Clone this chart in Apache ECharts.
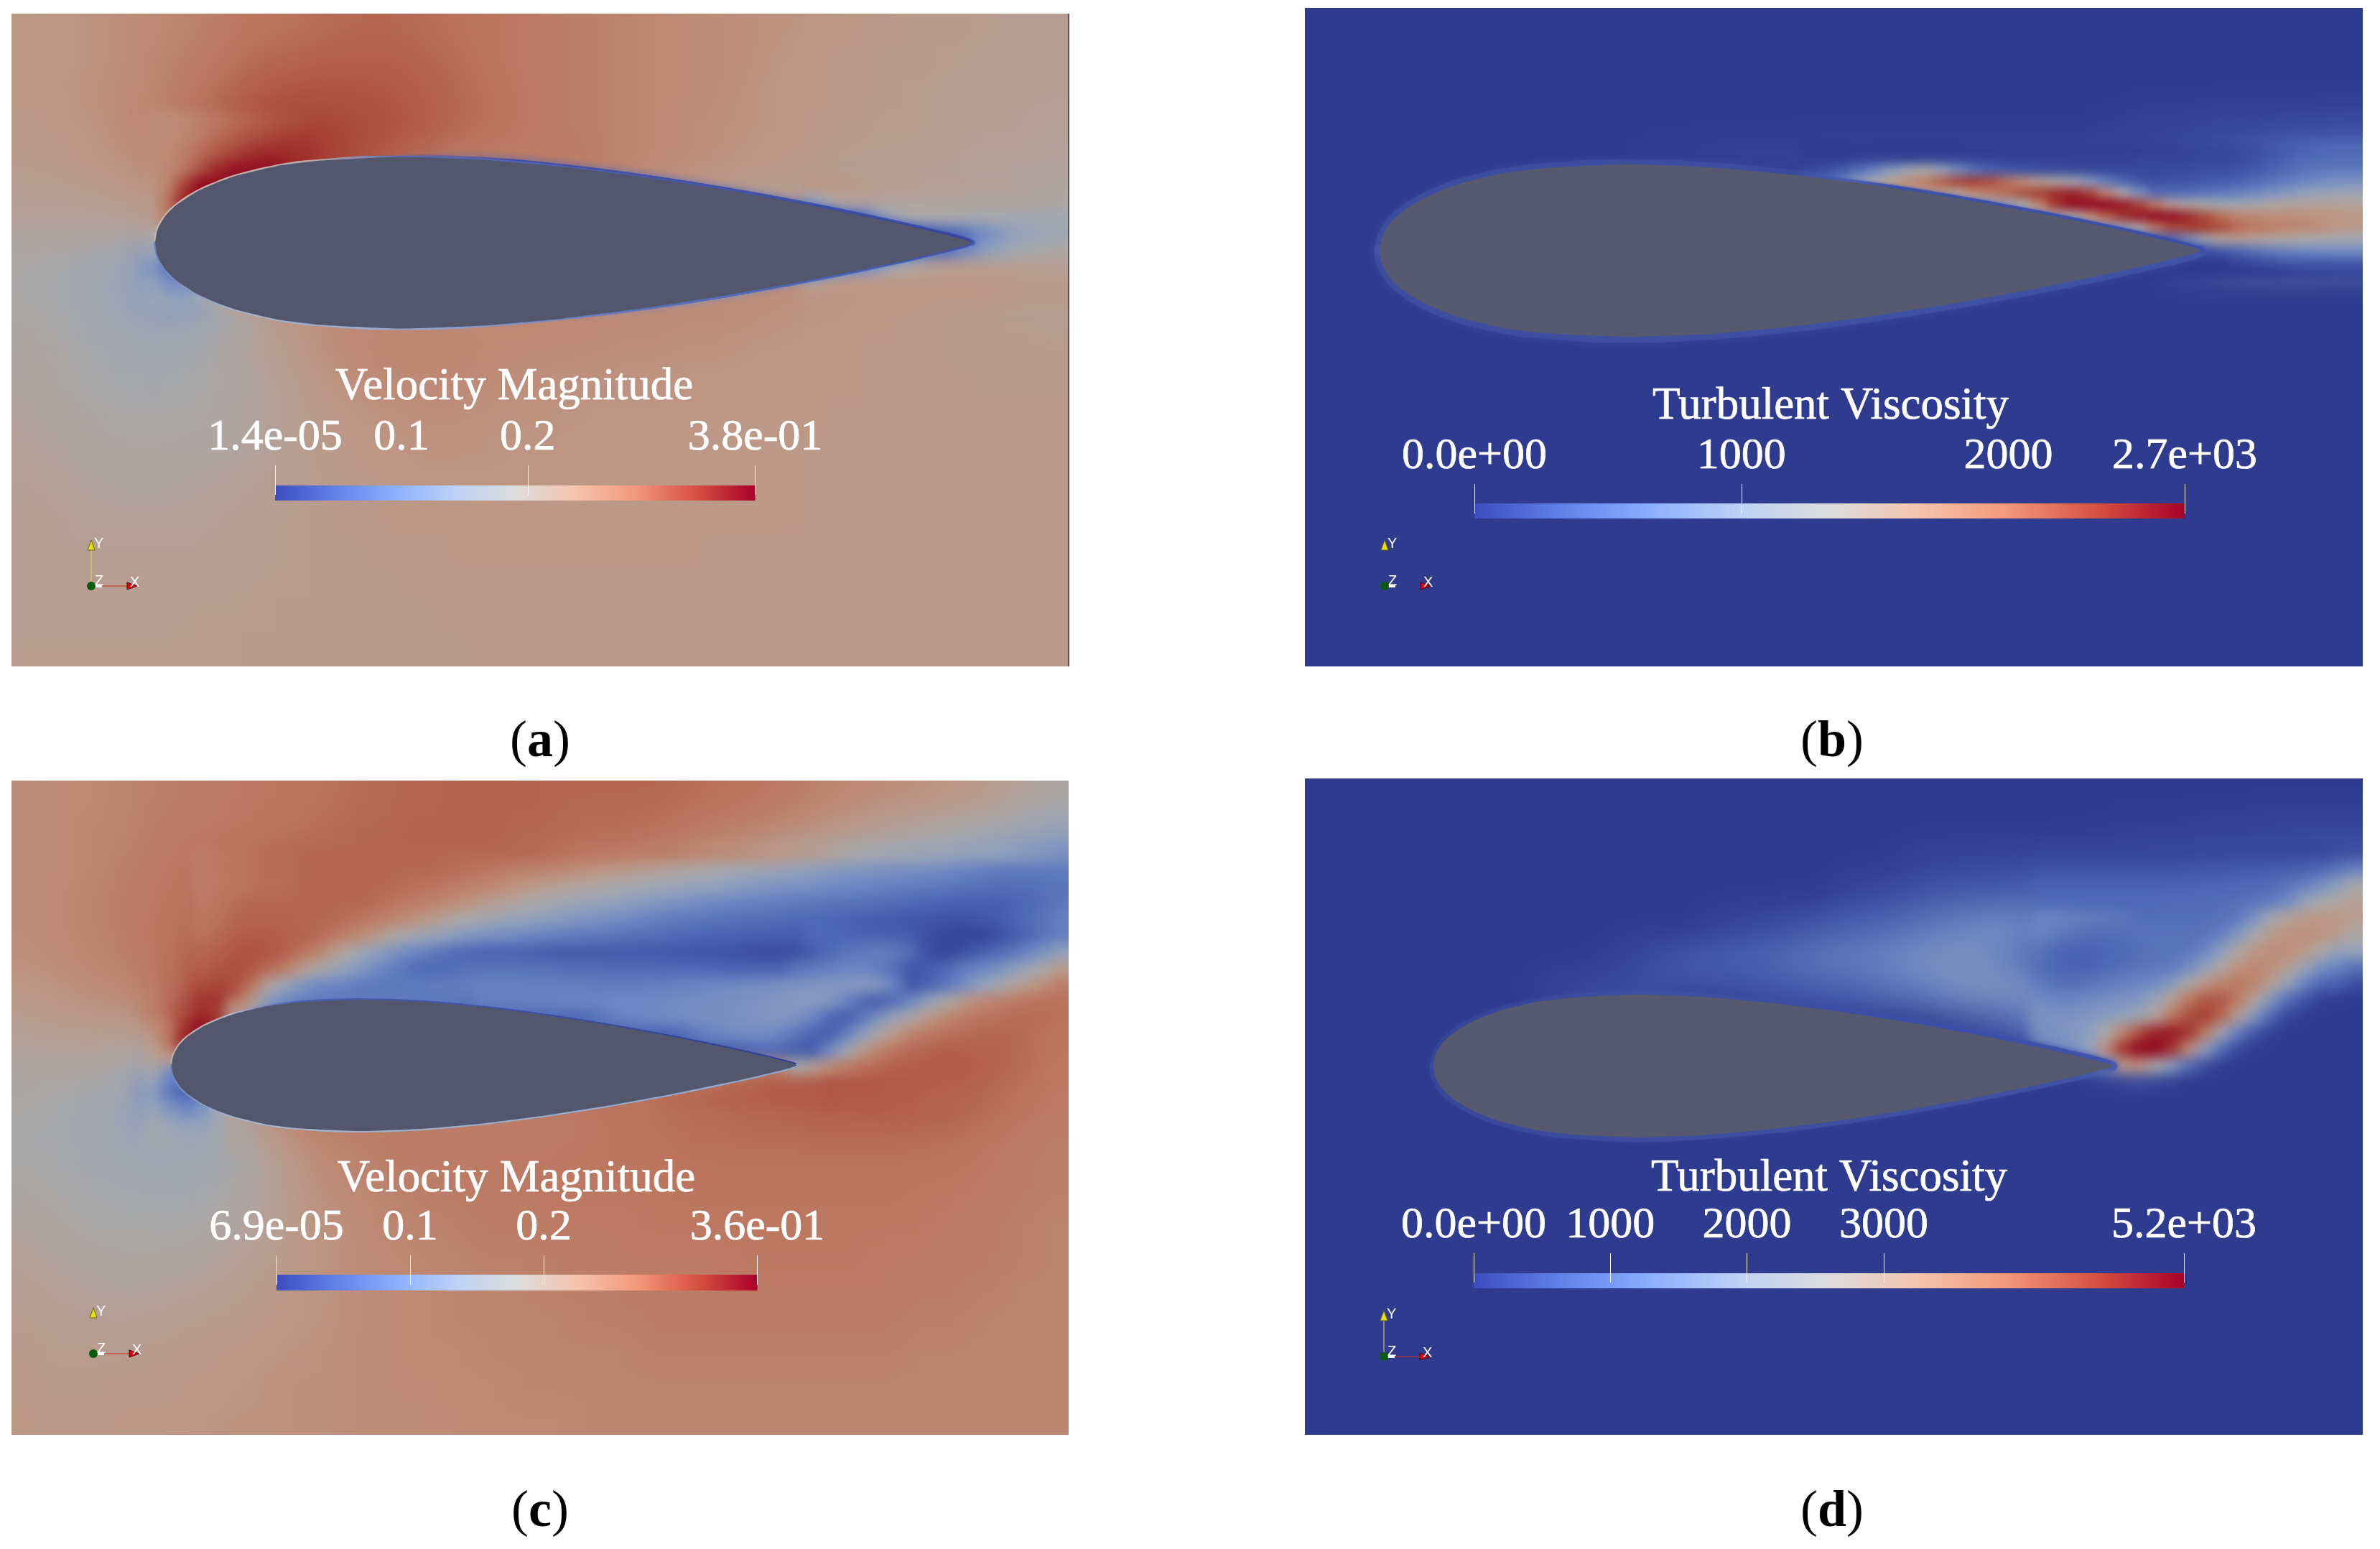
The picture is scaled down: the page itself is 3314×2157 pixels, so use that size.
<!DOCTYPE html>
<html>
<head>
<meta charset="utf-8">
<title>Airfoil flow fields</title>
<script src="https://cdn.jsdelivr.net/npm/echarts@6/dist/echarts.min.js"></script>
<style>
  html, body { margin: 0; padding: 0; background: #fff; overflow: hidden; }
  #page { position: relative; width: 3314px; height: 2157px; }
  .panel { position: absolute; overflow: hidden; }
  .field { position: absolute; }
  #overlay { position: absolute; left: 0; top: 0; width: 3314px; height: 2157px; }
</style>
</head>
<body>
<div id="page"><div id="overlay"></div></div>
<script>
// all field values are percent of the colour bar
const fieldColors = ["#2e3b8e", "#4b64b4", "#6d88c4", "#92a2bd", "#aaaaaa", "#bd9785", "#bc755e", "#a53f32", "#90051f"];
const barColors = ["#3b4cc0", "#6282ea", "#8dafff", "#bed2f6", "#dddddd", "#f5c4ad", "#f4987a", "#d65241", "#aa0028"];

const velocityA = [
  [62,63,64,66,68,70,73,75,76,77,78,78,77,76,75,73,72,71,70,68,67,66,65,64,63,62,61,60,60,59,58,58],
  [62,63,64,66,69,72,75,78,79,80,80,80,79,77,75,73,72,71,70,68,67,66,65,63,62,61,60,60,59,58,58,57],
  [62,63,65,67,70,74,78,81,83,83,83,82,80,78,76,74,72,71,70,68,67,66,64,63,62,61,60,59,58,58,57,57],
  [61,62,64,67,70,76,81,85,87,86,85,83,81,78,76,74,72,71,70,68,66,65,64,63,61,60,59,59,58,57,57,56],
  [60,61,63,65,68,74,83,92,94,88,84,80,76,72,72,72,73,72,70,68,66,65,63,62,60,59,58,58,57,56,56,55],
  [58,58,59,61,65,78,96,98,92,86,80,76,72,70,70,70,70,68,66,64,62,60,58,58,57,56,56,55,55,54,54,54],
  [55,55,55,55,58,68,80,80,78,75,72,70,70,70,70,70,68,66,64,62,60,60,60,58,56,52,48,46,44,34,40,46],
  [51,50,47,43,30,35,60,64,64,64,64,64,64,64,64,64,64,64,64,64,64,64,64,64,64,64,60,58,55,42,46,50],
  [50,48,45,40,32,30,42,62,66,66,66,66,66,66,66,66,66,66,66,66,66,66,66,66,64,63,62,62,60,58,57,57],
  [52,50,47,44,42,44,50,56,62,66,68,68,68,68,68,68,68,68,67,67,66,66,65,64,63,62,62,61,60,60,59,58],
  [53,51,49,47,46,48,52,56,60,65,68,69,69,69,68,67,66,66,65,65,64,64,63,63,62,62,61,61,60,60,60,60],
  [54,52,50,49,49,50,52,55,58,62,65,67,67,67,66,65,65,64,64,64,63,63,63,62,62,62,61,61,61,60,60,60],
  [55,53,52,51,51,51,53,55,58,61,63,64,65,65,64,64,64,63,63,63,63,62,62,62,62,61,61,61,61,61,61,61],
  [56,55,53,52,52,53,54,56,58,60,62,63,64,64,64,63,63,63,62,62,62,62,62,62,61,61,61,61,61,61,61,61],
  [57,56,55,54,54,55,56,57,58,60,61,62,63,63,63,63,62,62,62,62,62,62,62,62,61,61,61,61,61,61,61,61],
  [58,57,56,56,56,56,57,58,59,60,61,62,62,62,62,62,62,62,62,62,62,62,62,62,61,61,61,61,61,61,61,61],
  [58,57,57,57,57,57,58,58,59,60,60,61,61,62,62,62,62,62,62,62,62,61,61,61,61,61,61,61,61,61,61,61],
  [58,58,58,58,58,58,58,59,59,60,60,60,61,61,61,61,61,61,61,61,61,61,61,61,61,61,61,61,61,61,61,61],
  [58,58,58,58,58,59,59,59,60,60,60,60,60,61,61,61,61,61,61,61,61,61,61,61,61,61,61,61,61,61,61,61],
  [59,59,59,59,59,59,59,60,60,60,60,60,60,60,61,61,61,61,61,61,61,61,61,61,61,61,61,61,61,61,61,61]
];
const wakeA = [
  [64,62,61,60,59,58,58,57,57,57,56,56,56,55,55,54],
  [40,52,56,56,55,55,55,54,54,54,54,54,54,54,53,52],
  [30,30,30,20,36,46,50,50,50,49,48,48,47,46,46,46],
  [20,20,20,20,20,20,16,14,14,16,24,30,36,40,42,44],
  [20,20,20,20,20,20,20,16,14,24,32,38,44,48,50,52],
  [30,30,30,30,35,48,52,56,58,58,58,58,58,58,58,57],
  [54,60,62,62,62,62,62,62,62,62,62,62,61,60,60,60],
  [64,64,64,63,63,63,63,62,62,62,62,61,61,60,60,60]
];
const noseA = [
  [66,66,68,71,74,77,79,81,83,84],
  [66,67,69,73,77,80,83,85,87,88],
  [66,68,72,77,82,86,90,92,92,90],
  [65,68,74,84,92,97,98,98,96,92],
  [64,70,88,100,100,100,96,92,90,88],
  [60,76,96,100,100,96,90,88,88,88],
  [60,72,88,90,90,88,84,84,84,84],
  [52,48,56,60,60,60,60,60,60,60],
  [42,32,36,50,50,60,60,60,60,60],
  [32,18,20,40,50,60,60,60,60,60],
  [38,30,28,40,54,62,62,62,62,62],
  [44,40,38,44,52,60,62,62,62,62]
];

const zeroRow = [0,0,0,0,0,0,0,0,0,0,0,0,0,0,0,0,0,0,0,0,0,0,0,0,0,0,0,0,0,0,0,0];
const viscosityB = [
  zeroRow, zeroRow, zeroRow,
  [0,0,0,0,0,0,0,0,0,0,0,0,0,0,0,0,0,0,0,0,0,0,0,0,1,2,2,3,3,4,4,5],
  [0,0,0,0,0,0,0,0,0,0,1,1,2,2,2,3,3,3,3,3,3,3,3,3,4,4,6,8,10,12,14,14],
  [0,0,0,0,0,0,0,0,0,0,0,0,0,0,0,0,50,70,78,80,78,60,44,34,30,30,38,50,58,60,60,60],
  [0,0,0,0,0,0,0,0,0,0,0,0,0,0,0,0,0,0,0,0,60,80,90,84,72,68,70,68,66,64,62,60],
  [0,0,0,0,0,0,0,0,0,0,0,0,0,0,0,0,0,0,0,0,0,0,0,0,0,0,10,20,28,30,30,26],
  zeroRow, zeroRow, zeroRow, zeroRow, zeroRow, zeroRow, zeroRow, zeroRow, zeroRow, zeroRow, zeroRow, zeroRow
];
const plumeB = [
  [0,0,0,0,0,0,0,0,0,0,1,1,1,1,1,1,1,1,1,1,1,2,2,3,3,4,5,6,8,10,12,13,14,14],
  [1,1,1,2,2,2,2,3,3,3,2,2,2,2,2,2,2,2,2,2,3,3,3,3,4,4,5,6,9,12,14,15,16,16],
  [4,6,10,16,24,34,44,50,40,28,18,12,9,7,6,5,4,4,4,4,4,4,5,5,6,6,7,9,12,15,18,19,20,20],
  [10,14,24,36,48,58,66,72,80,86,88,84,76,66,58,52,46,34,22,14,8,6,7,8,9,10,12,15,18,21,24,27,29,30],
  [50,50,50,50,60,60,60,60,60,56,66,72,78,84,88,92,94,86,70,50,30,16,15,16,18,20,22,26,30,34,38,41,43,44],
  [40,40,40,40,40,40,40,40,40,40,40,40,40,50,70,90,98,100,100,96,86,72,58,52,48,46,46,48,52,54,56,56,56,56],
  [50,50,50,50,50,50,50,50,50,50,50,50,50,50,50,50,50,66,80,90,96,100,98,92,84,76,70,68,66,66,65,64,63,62],
  [40,40,40,40,40,40,40,40,40,40,40,40,40,40,40,40,40,40,40,40,52,74,84,88,88,84,78,74,72,70,68,66,62,60],
  [14,14,14,14,14,14,14,14,14,14,14,14,14,14,14,14,14,14,14,14,14,14,14,28,44,56,58,56,54,52,50,48,47,46],
  [4,4,4,4,4,4,4,4,4,4,4,4,4,4,4,4,4,4,4,4,4,4,4,4,6,10,14,18,22,24,26,27,28,28],
  [0,0,0,0,0,0,0,0,0,0,0,0,0,0,0,0,0,0,0,0,0,0,0,0,0,0,3,5,7,9,10,10,10,10],
  [0,0,0,0,0,0,0,0,0,0,0,0,0,0,0,0,0,0,0,0,0,0,0,0,0,0,0,0,0,1,2,2,3,3]
];

const velocityC = [
  [66,67,68,70,71,72,73,74,75,76,77,78,78,79,79,79,78,78,78,78,77,76,75,73,70,68,66,65,63,60,56,52],
  [66,67,69,70,72,73,74,75,76,77,78,78,79,79,79,78,78,77,77,76,74,72,70,67,64,60,56,53,50,47,44,40],
  [66,67,69,71,73,75,76,77,78,78,78,79,79,78,78,77,76,74,72,69,66,62,57,52,48,44,42,40,38,35,32,28],
  [66,68,70,72,74,76,77,78,79,79,79,78,77,74,68,60,54,48,42,38,34,32,30,26,24,22,20,18,16,15,16,18],
  [66,68,70,72,75,77,79,80,80,78,72,58,50,38,32,28,24,20,18,16,14,13,12,11,10,9,8,7,6,6,14,20],
  [65,67,69,71,75,79,83,82,76,62,42,30,22,16,14,13,12,12,11,11,10,9,8,8,8,7,6,5,4,6,20,40],
  [62,64,66,68,74,82,90,80,58,34,24,22,22,22,21,21,22,22,22,23,24,25,26,28,30,30,14,8,30,50,66,72],
  [58,59,60,60,66,92,98,60,25,20,20,20,20,20,20,20,20,20,20,20,24,26,28,30,28,20,10,30,60,72,76,76],
  [54,54,54,52,47,60,60,50,40,40,40,40,40,40,40,40,40,40,40,40,40,40,40,55,72,78,80,80,80,78,77,75],
  [52,50,48,44,22,22,40,64,72,74,74,74,74,74,74,74,74,74,74,76,76,77,78,79,80,81,82,81,80,78,76,74],
  [50,48,46,42,36,38,44,60,68,72,72,72,72,72,72,72,72,74,75,76,77,77,78,78,79,79,79,78,78,76,74,72],
  [50,49,47,45,44,45,48,54,62,68,70,72,72,73,73,73,74,74,75,75,76,76,76,76,76,76,76,76,75,74,72,71],
  [52,50,49,48,47,47,50,54,60,66,68,70,72,72,73,73,74,74,74,74,75,75,75,75,75,75,75,74,74,73,72,71],
  [54,52,50,50,50,50,53,56,60,64,67,69,70,71,72,72,73,73,73,74,74,74,74,74,74,74,74,74,73,72,71,70],
  [56,54,53,52,52,53,55,58,61,64,66,68,69,70,71,71,72,72,73,73,73,73,74,74,74,74,73,73,72,72,71,70],
  [58,56,55,54,55,56,58,60,62,64,66,67,68,69,70,70,71,71,72,72,72,73,73,73,73,73,73,72,72,71,70,70],
  [59,58,57,57,58,59,60,61,63,64,66,67,68,69,69,70,70,71,71,72,72,72,72,72,72,72,72,71,71,70,70,70],
  [60,59,59,59,60,61,62,63,64,65,66,67,68,68,69,69,70,70,70,71,71,71,71,71,71,71,71,70,70,70,70,70],
  [61,60,60,61,61,62,63,64,65,65,66,67,67,68,68,69,69,69,70,70,70,70,70,70,70,70,70,70,70,70,70,70],
  [62,61,61,62,62,63,64,64,65,65,66,66,67,67,68,68,68,69,69,69,69,69,69,69,69,69,69,69,69,69,69,69]
];
const wakeC = [
  [72,74,75,76,77,77,78,78,78,78,78,78,78,78,78,78,78,78,78,78,78,77,76,75,74,74,73,72,72,71,69,68,67,66,64,63,61,59,56,52,50,47,46,44,43,42,40,39,38,36,34,32,30],
  [72,74,75,76,77,77,78,78,78,78,78,78,78,78,78,77,76,75,73,71,70,69,67,65,63,61,59,57,55,53,51,49,47,45,43,41,38,36,34,32,31,30,29,28,27,26,24,22,21,20,20,20,20],
  [72,74,75,76,77,77,78,78,78,78,78,78,77,76,75,73,71,69,67,64,61,58,56,54,52,50,47,45,43,41,39,37,35,33,31,30,29,28,26,25,24,23,22,21,20,19,18,17,16,16,16,17,18],
  [73,75,77,78,78,78,78,78,78,78,78,76,74,72,70,67,64,60,57,54,50,47,44,41,39,37,35,33,31,29,27,25,24,23,22,21,20,19,18,18,17,16,15,14,13,12,11,11,11,12,14,16,19],
  [74,76,78,79,79,79,78,78,78,76,74,71,68,64,60,54,50,46,42,39,37,35,33,31,29,27,25,23,21,20,19,18,17,16,16,15,14,14,13,12,11,10,9,8,8,7,7,8,9,12,15,18,22],
  [76,78,80,81,81,80,79,78,74,70,65,58,50,45,40,36,32,30,28,26,24,22,21,20,19,18,17,16,15,14,13,12,12,11,11,10,10,14,13,13,12,12,11,10,6,4,3,3,5,9,13,18,22],
  [78,80,82,83,82,80,76,70,60,50,40,34,28,24,20,16,14,12,12,12,11,10,9,9,9,9,9,9,9,8,8,8,7,6,5,5,6,10,14,18,20,22,20,15,6,3,6,10,14,18,24,30,38],
  [80,82,84,82,78,72,60,52,44,36,30,24,20,15,14,15,17,18,18,18,17,17,16,16,16,15,15,15,14,14,14,13,12,12,12,12,18,20,22,24,24,21,16,8,10,14,20,24,28,34,42,50,60],
  [84,86,84,76,54,42,32,26,24,22,20,19,19,20,21,21,22,23,23,23,22,22,22,22,21,21,21,22,22,23,24,25,26,27,28,29,30,31,32,33,34,32,22,8,12,18,26,36,44,52,60,66,72],
  [88,90,80,60,34,26,22,20,20,20,20,20,20,20,20,20,18,22,22,22,23,23,24,24,24,25,25,25,26,27,27,28,29,30,31,32,33,34,32,24,14,10,16,26,38,50,60,66,70,73,75,76,76],
  [96,92,70,40,20,18,16,14,14,14,14,14,14,14,14,14,14,14,14,14,14,14,14,14,18,22,24,25,26,27,28,28,29,30,31,32,30,24,14,10,18,30,42,52,62,68,72,75,76,77,77,77,76],
  [90,60,40,20,14,12,12,12,12,12,12,12,12,12,12,12,12,12,12,12,12,12,12,12,12,12,12,12,12,14,20,24,26,27,27,24,18,12,10,22,36,52,62,70,74,76,77,78,78,78,77,76,75],
  [60,40,30,14,12,10,10,10,10,10,10,10,10,10,10,10,10,10,10,10,10,10,10,10,10,10,10,10,10,10,10,10,10,12,14,14,10,10,26,44,60,70,75,78,79,80,80,79,79,78,77,76,75],
  [60,64,70,70,70,70,70,70,70,70,70,70,70,70,70,70,70,70,70,70,70,70,70,70,70,70,70,70,70,70,70,70,70,70,70,70,50,56,66,72,76,78,80,80,81,81,81,80,79,78,77,75,74],
  [46,60,70,76,76,76,76,76,76,76,76,76,76,76,76,76,76,76,76,76,76,76,76,76,76,76,76,76,76,76,76,76,78,78,80,80,80,81,82,82,82,82,81,81,81,80,80,79,78,77,76,75,74],
  [60,64,68,72,76,76,76,76,76,76,76,76,76,76,76,76,76,76,76,76,76,76,76,76,76,76,76,76,77,78,78,79,79,80,80,81,81,81,82,81,81,81,80,80,79,79,78,78,77,76,75,74,73]
];
const noseC = [
  [72,78,84,90,88,60],
  [66,74,90,98,90,40],
  [60,74,96,96,60,30],
  [55,60,60,60,60,60],
  [46,26,20,30,50,60],
  [36,20,12,22,40,60],
  [40,32,24,30,44,60],
  [46,42,38,38,44,54],
  [48,46,44,44,48,54]
];

const viscosityD = [
  zeroRow,
  [0,0,0,0,0,0,0,0,0,0,0,0,0,0,0,0,0,0,0,0,0,0,0,0,1,1,1,2,2,3,3,3],
  [0,0,0,0,0,0,0,0,0,0,0,0,0,0,0,0,0,0,2,3,3,4,4,5,5,6,6,6,7,7,8,8],
  [0,0,0,0,0,0,0,0,0,0,0,0,0,0,0,0,3,5,7,9,10,11,12,12,12,12,12,13,14,15,20,34],
  [0,0,0,0,0,0,0,0,0,0,0,0,2,4,6,9,12,14,18,22,26,26,22,18,17,17,17,18,22,34,52,58],
  [0,0,0,0,0,0,0,0,0,2,6,9,11,13,15,19,21,24,28,30,28,20,13,12,14,17,18,20,34,56,62,44],
  [0,0,0,0,0,0,0,3,5,6,6,5,5,6,8,10,12,16,20,26,30,30,28,30,34,30,36,58,70,60,20,4],
  [0,0,0,0,0,0,0,0,0,0,0,0,0,0,0,0,0,0,0,4,8,14,28,40,44,54,78,76,40,8,0,0],
  [0,0,0,0,0,0,0,0,0,0,0,0,0,0,0,0,0,0,0,0,0,0,0,30,72,90,60,12,0,0,0,0],
  zeroRow, zeroRow, zeroRow, zeroRow, zeroRow, zeroRow, zeroRow, zeroRow, zeroRow, zeroRow, zeroRow
];
const plumeD = [
  [3,3,3,3,3,3,3,3,3,3,4,4,4,4,4,4,4,4,5,6],
  [7,7,7,7,7,7,7,7,7,8,8,8,9,9,10,10,11,13,17,22],
  [12,12,12,12,12,12,12,12,12,12,13,13,14,14,15,18,22,28,36,48],
  [14,14,14,14,14,14,14,14,15,15,15,16,16,18,20,26,38,48,52,58],
  [24,24,22,21,20,18,16,16,16,16,16,17,20,30,46,56,60,62,62,60],
  [24,20,18,16,16,16,17,17,17,17,18,22,32,48,60,64,66,64,60,52],
  [18,14,12,12,13,14,16,17,18,19,24,36,52,62,66,66,62,52,40,40],
  [16,13,12,12,14,16,18,19,20,26,38,52,64,68,66,58,44,30,24,18],
  [20,17,16,18,20,22,24,26,34,50,62,70,74,70,58,40,24,14,12,6],
  [26,24,24,26,28,30,32,42,58,74,82,82,72,54,32,16,8,2,1,0],
  [30,30,30,32,34,38,44,54,74,84,88,78,56,32,14,4,1,0,0,0],
  [28,30,32,36,50,68,84,94,96,90,72,44,22,8,2,0,0,0,0,0],
  [22,26,30,38,66,90,100,100,90,66,36,16,4,1,0,0,0,0,0,0],
  [8,8,10,18,30,60,64,50,34,16,6,1,0,0,0,0,0,0,0,0],
  [0,0,0,1,2,4,6,4,2,0,0,0,0,0,0,0,0,0,0,0],
  [0,0,0,0,0,0,0,0,0,0,0,0,0,0,0,0,0,0,0,0]
];

// airfoil outline, chord units
const chordX = [0,0.002,0.005,0.0125,0.025,0.05,0.075,0.1,0.15,0.2,0.3,0.4,0.5,0.6,0.7,0.8,0.9,0.95,0.99,1];
const halfThickness = [0,0.013,0.0208,0.033,0.0454,0.0619,0.0733,0.0822,0.0941,0.1004,0.1051,0.1015,0.0926,0.0798,0.0641,0.0459,0.0254,0.014,0.004,0];

// colour bar ranges and tick labels
const barA = { min: 0, max: 0.38, ticks: [0, 0.2, 0.38], labels: [0, 0.1, 0.2, 0.38], text: ["1.4e-05", "0.1", "0.2", "3.8e-01"] };
const barB = { min: 0, max: 2660, ticks: [0, 1000, 2660], labels: [0, 1000, 2000, 2660], text: ["0.0e+00", "1000", "2000", "2.7e+03"] };
const barC = { min: 0, max: 0.36, ticks: [0, 0.1, 0.2, 0.36], labels: [0, 0.1, 0.2, 0.36], text: ["6.9e-05", "0.1", "0.2", "3.6e-01"] };
const barD = { min: 0, max: 5197, ticks: [0, 1000, 2000, 3000, 5197], labels: [0, 1000, 2000, 3000, 5197], text: ["0.0e+00", "1000", "2000", "3000", "5.2e+03"] };

const SERIF = "'Liberation Serif', serif";

const panels = [
  { name: "a", x0: 16, x1: 1488, y0: 19, y1: 928, le: 216, chord: 1138, cy: 338, base: velocityA,
    details: [
      { rows: wakeA, x: 1120, y: 246, w: 23, h: 22.75, padRight: true, blur: 9 },
      { rows: noseA, x: 200, y: 155, w: 23, h: 23, blur: 9 }
    ],
    title: "Velocity Magnitude", titleX: 716, titleTop: 508, bar: barA, barX: 383, barW: 668.5, barY: 676, barH: 21, tickUp: 13,
    capY: 998, capX: 752, triad: [127, 816], shaftY: true, shaftX: true, fill: "#52576e",
    lines: [
      { side: 1, from: 0.25, to: 1, width: 8, blur: 12, shadow: "#4a62b8", stops: [[0, "rgba(58,74,166,0)"], [0.2, "rgba(58,74,166,0.9)"], [1, "rgba(58,74,166,0.9)"]] },
      { side: -1, from: 0.45, to: 1, width: 6, blur: 8, shadow: "#6d88c4", stops: [[0, "rgba(79,104,184,0)"], [0.3, "rgba(79,104,184,0.9)"], [1, "rgba(79,104,184,0.9)"]] },
      { side: 1, from: 0, to: 1, width: 4, blur: 0, stops: [[0, "#c9b8b0"], [0.2, "#b8a8a4"], [0.3, "#5a6cb4"], [1, "#33429c"]] },
      { side: -1, from: 0, to: 1, width: 4, blur: 0, stops: [[0, "#6b84c0"], [0.1, "#a8b4c8"], [0.35, "#8ea3cc"], [0.6, "#5a72bc"], [1, "#3f52a8"]] }
    ] },
  { name: "b", x0: 1817, x1: 3290, y0: 11, y1: 928, le: 1921, chord: 1144, cy: 349, base: viscosityB,
    details: [{ rows: plumeB, x: 2507, y: 197, w: 23, h: 16, padRight: true, blur: 7 }],
    title: "Turbulent Viscosity", titleX: 2549, titleTop: 535, bar: barB, barX: 2053, barW: 989, barY: 701, barH: 21, tickUp: 14,
    capY: 998, capX: 2551, triad: [1928, 816], shaftY: false, shaftX: false, fill: "#555a6e",
    lines: [
      { side: 1, from: 0, to: 0.6, width: 14, blur: 12, shadow: "#4b5faf", stops: [[0, "rgba(75,95,175,0.35)"], [0.7, "rgba(75,95,175,0.35)"], [1, "rgba(75,95,175,0)"]] },
      { side: -1, from: 0, to: 1, width: 16, blur: 12, shadow: "#4b5faf", stops: [[0, "rgba(75,95,175,0.35)"], [1, "rgba(75,95,175,0.45)"]] },
      { side: 1, from: 0.45, to: 1, width: 8, blur: 5, shadow: "#3c4eaa", stops: [[0, "rgba(60,78,170,0)"], [0.25, "rgba(60,78,170,0.9)"], [1, "rgba(60,78,170,0.9)"]] }
    ] },
  { name: "c", x0: 16, x1: 1488, y0: 1087, y1: 1998, le: 239, chord: 871, cy: 1483.5, base: velocityC,
    details: [
      { rows: wakeC, x: 269, y: 1178, w: 23, h: 22.8, padRight: true, blur: 9 },
      { rows: noseC, x: 200, y: 1394, w: 23, h: 23, blur: 9 }
    ],
    title: "Velocity Magnitude", titleX: 719, titleTop: 1611, bar: barC, barX: 385, barW: 669.5, barY: 1775, barH: 22, tickUp: 14,
    capY: 2070, capX: 752, triad: [130, 1885], shaftY: false, shaftX: true, fill: "#52576e",
    lines: [
      { side: 1, from: 0, to: 1, width: 4, blur: 0, stops: [[0, "#c0aea8"], [0.1, "#b0b4c4"], [0.2, "#4a5fb0"], [1, "#2f3d96"]] },
      { side: -1, from: 0, to: 1, width: 4, blur: 0, stops: [[0, "#6b84c0"], [0.1, "#a8b4c8"], [1, "#8ea8d0"]] }
    ] },
  { name: "d", x0: 1817, x1: 3290, y0: 1084, y1: 1998, le: 1996, chord: 946, cy: 1484.5, base: viscosityD,
    details: [{ rows: plumeD, x: 2829, y: 1175, w: 23, h: 22.85, padRight: true, blur: 9 }],
    title: "Turbulent Viscosity", titleX: 2547, titleTop: 1610, bar: barD, barX: 2052, barW: 989, barY: 1773, barH: 21, tickUp: 13,
    capY: 2070, capX: 2551, triad: [1927, 1889], shaftY: true, shaftX: true, fill: "#555a6e",
    lines: [
      { side: 1, from: 0, to: 0.6, width: 10, blur: 8, shadow: "#4b5faf", stops: [[0, "rgba(75,95,175,0.2)"], [0.7, "rgba(75,95,175,0.2)"], [1, "rgba(75,95,175,0)"]] },
      { side: 1, from: 0.5, to: 1, width: 12, blur: 8, shadow: "#3f52a4", stops: [[0, "rgba(60,78,170,0)"], [0.3, "rgba(60,78,170,0.8)"], [1, "rgba(60,78,170,0.8)"]] },
      { side: -1, from: 0, to: 1, width: 12, blur: 9, shadow: "#3f52a4", stops: [[0, "rgba(75,95,175,0.25)"], [0.3, "rgba(75,95,175,0.4)"], [1, "rgba(75,95,175,0.5)"]] }
    ] }
];

function fieldChart(panel, rows, box, cellW, cellH, blur, pad) {
  // box is relative to the page; the blurred layer sits inside the panel clip
  const page = document.getElementById("page");
  const clip = document.createElement("div");
  clip.className = "panel";
  clip.style.cssText = `left:${panel.x0}px;top:${panel.y0}px;width:${panel.x1 - panel.x0}px;height:${panel.y1 - panel.y0}px`;
  const el = document.createElement("div");
  el.className = "field";
  const cols = rows[0].length;
  const nCols = cols + pad.left + pad.right;
  const nRows = rows.length + pad.top + pad.bottom;
  el.style.left = box.x - pad.left * cellW - panel.x0 + "px";
  el.style.top = box.y - pad.top * cellH - panel.y0 + "px";
  el.style.width = nCols * cellW + "px";
  el.style.height = nRows * cellH + "px";
  el.style.filter = `blur(${blur}px)`;
  clip.appendChild(el);
  page.insertBefore(clip, document.getElementById("overlay"));

  const data = [];
  for (let j = 0; j < nRows; j++) {
    for (let i = 0; i < nCols; i++) {
      const r = Math.min(rows.length - 1, Math.max(0, j - pad.top));
      const c = Math.min(cols - 1, Math.max(0, i - pad.left));
      data.push([i, j, rows[r][c]]);
    }
  }
  const chart = echarts.init(el, null, { renderer: "canvas" });
  chart.setOption({
    animation: false,
    grid: { left: 0, right: 0, top: 0, bottom: 0 },
    xAxis: { type: "category", show: false, data: Array.from({ length: nCols }, (_, i) => i) },
    yAxis: { type: "category", show: false, inverse: true, data: Array.from({ length: nRows }, (_, i) => i) },
    visualMap: { show: false, min: 0, max: 100, dimension: 2, inRange: { color: fieldColors } },
    series: [{ type: "heatmap", data: data, progressive: 0, silent: true }]
  });
}

panels.forEach(p => {
  const rows = p.base;
  const cellW = (p.x1 - p.x0) / rows[0].length;
  const cellH = (p.y1 - p.y0) / rows.length;
  fieldChart(p, rows, { x: p.x0, y: p.y0 }, cellW, cellH, 22, { left: 4, right: 4, top: 4, bottom: 4 });
  p.details.forEach(d => {
    fieldChart(p, d.rows, { x: d.x, y: d.y }, d.w, d.h, d.blur, { left: 0, right: d.padRight ? 3 : 0, top: 0, bottom: 0 });
  });
});

// upper side is +1, lower side is -1
function surface(side, from, to) {
  const pts = [];
  chordX.forEach((x, i) => {
    if (x >= from && x <= to) pts.push([x, side * halfThickness[i]]);
  });
  return pts;
}
const outline = surface(1, 0, 1).concat(surface(-1, 0, 1).reverse());

function triad(p) {
  const [ox, oy] = p.triad;
  const els = [];
  if (p.shaftY) els.push({ type: "line", shape: { x1: ox, y1: oy, x2: ox, y2: oy - 52 }, style: { stroke: "#e8d84a", lineWidth: 1 } });
  if (p.shaftX) els.push({ type: "line", shape: { x1: ox, y1: oy, x2: ox + 52, y2: oy }, style: { stroke: "#d92020", lineWidth: 1 } });
  els.push(
    { type: "rect", shape: { x: ox, y: oy - 1, width: 15, height: 3 }, style: { fill: "#ffffff" } },
    { type: "circle", shape: { cx: ox, cy: oy, r: 6 }, style: { fill: "#0b5a12" } },
    { type: "polygon", shape: { points: [[ox, oy - 64], [ox - 5, oy - 50], [ox + 5, oy - 50]] }, style: { fill: "#e6e000", stroke: "#6a6a10", lineWidth: 1 } },
    { type: "polygon", shape: { points: [[ox + 64, oy], [ox + 50, oy - 5], [ox + 50, oy + 5]] }, style: { fill: "#e00010", stroke: "#500010", lineWidth: 1 } },
    { type: "text", x: ox + 4, y: oy - 69, style: { text: "Y", fill: "#fff", font: "20px 'Liberation Sans'" } },
    { type: "text", x: ox + 5, y: oy - 17, style: { text: "Z", fill: "#fff", font: "20px 'Liberation Sans'" } },
    { type: "text", x: ox + 54, y: oy - 15, style: { text: "X", fill: "#fff", font: "20px 'Liberation Sans'" } }
  );
  return els;
}

const grid = [], xAxis = [], yAxis = [], series = [], title = [], graphic = [];
panels.forEach(p => {
  const idx = grid.length;
  grid.push({ left: p.x0, top: p.y0, width: p.x1 - p.x0, height: p.y1 - p.y0 });
  xAxis.push({ gridIndex: idx, type: "value", show: false, min: (p.x0 - p.le) / p.chord, max: (p.x1 - p.le) / p.chord });
  yAxis.push({ gridIndex: idx, type: "value", show: false, min: (p.cy - p.y1) / p.chord, max: (p.cy - p.y0) / p.chord });
  p.lines.forEach(l => {
    series.push({
      type: "line", xAxisIndex: idx, yAxisIndex: idx, showSymbol: false, silent: true, smooth: true, clip: true, z: 2,
      data: surface(l.side, l.from, l.to),
      lineStyle: {
        color: new echarts.graphic.LinearGradient(0, 0, 1, 0, l.stops.map(s => ({ offset: s[0], color: s[1] }))),
        width: l.width, shadowBlur: l.blur, shadowColor: l.shadow || "transparent", cap: "round"
      }
    });
  });
  series.push({
    type: "custom", xAxisIndex: idx, yAxisIndex: idx, silent: true, z: 3, data: [[0, 0]],
    renderItem: (params, api) => ({
      type: "polygon",
      shape: { points: outline.map(pt => api.coord(pt)), smooth: 0.15 },
      style: { fill: p.fill }
    })
  });

  // colour bar
  const barIdx = grid.length;
  const bar = p.bar;
  grid.push({ left: p.barX, top: p.barY, width: p.barW, height: p.barH });
  xAxis.push({
    gridIndex: barIdx, type: "value", min: bar.min, max: bar.max, position: "top", offset: -p.tickUp,
    axisLine: { show: false }, splitLine: { show: false },
    axisTick: { show: true, customValues: bar.ticks, length: 41, lineStyle: { color: "#fff", width: 1 } },
    axisLabel: {
      show: true, customValues: bar.labels, margin: 48, hideOverlap: false, color: "#fff",
      textBorderColor: "#fff", textBorderWidth: 0.7,
      fontFamily: SERIF, fontSize: 62, formatter: v => bar.text[bar.labels.indexOf(v)]
    },
    z: 5
  });
  yAxis.push({ gridIndex: barIdx, type: "value", show: false, min: 0, max: 1 });
  series.push({
    type: "custom", xAxisIndex: barIdx, yAxisIndex: barIdx, silent: true, z: 4, data: [[bar.min, bar.max]],
    renderItem: (params, api) => {
      const a = api.coord([api.value(0), 0]);
      const b = api.coord([api.value(1), 1]);
      return {
        type: "rect",
        shape: { x: a[0], y: b[1], width: b[0] - a[0], height: a[1] - b[1] },
        style: {
          fill: new echarts.graphic.LinearGradient(0, 0, 1, 0,
            barColors.map((c, i) => ({ offset: i / (barColors.length - 1), color: c })))
        }
      };
    }
  });

  title.push({
    text: p.title, left: p.titleX, top: p.titleTop, textAlign: "center", padding: 0,
    textStyle: { color: "#fff", fontFamily: SERIF, fontSize: 63, fontWeight: "normal", textBorderColor: "#fff", textBorderWidth: 0.7 }
  });
  title.push({
    text: `{n|(}{b|${p.name}}{n|)}`, left: p.capX, top: p.capY, textAlign: "center", padding: 0,
    textStyle: {
      fontWeight: "normal",
      rich: {
        n: { fontFamily: SERIF, fontSize: 72, color: "#000", fontWeight: "normal" },
        b: { fontFamily: SERIF, fontSize: 72, color: "#000", fontWeight: "bold" }
      }
    }
  });
  graphic.push(...triad(p));
});
graphic.push({ type: "line", shape: { x1: 1488, y1: 19, x2: 1488, y2: 928 }, style: { stroke: "#555", lineWidth: 2 } });

const overlay = echarts.init(document.getElementById("overlay"), null, { renderer: "canvas" });
overlay.setOption({ animation: false, backgroundColor: "transparent", grid, xAxis, yAxis, series, title, graphic });
</script>
</body>
</html>
